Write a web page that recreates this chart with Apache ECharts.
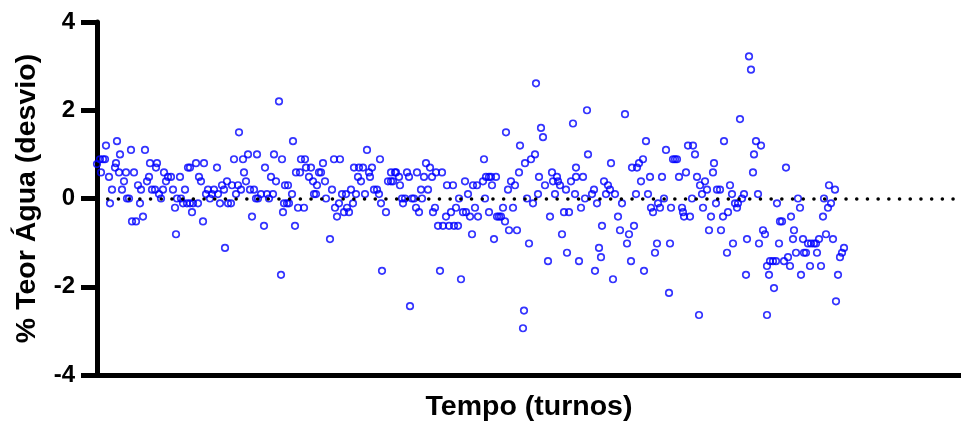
<!DOCTYPE html>
<html>
<head>
<meta charset="utf-8">
<script src="https://cdn.jsdelivr.net/npm/echarts@6/dist/echarts.min.js"></script>
<style>
  html, body { margin: 0; padding: 0; background: #fff; }
  #chart { width: 961px; height: 425px; }
</style>
</head>
<body>
<div id="chart"></div>
<script>
// turnos (x) e desvio do teor de água (y)
const turnos = [
  0, 3, 4, 6, 8, 9, 12, 13, 15, 18, 19, 20, 22, 23, 25, 27, 29, 30, 32, 34, 35, 37, 39, 41, 43, 44, 46, 48, 50, 52, 53, 55, 58, 59, 60, 62, 64, 66, 67, 69, 71, 74, 76, 78, 79, 80, 83, 84, 86, 88, 90, 91,
  93, 93, 95, 96, 99, 101, 102, 104, 106, 107, 109, 111, 113, 115, 117, 120, 121, 123, 125, 127, 128, 130, 131, 134, 135, 137, 139, 141, 142, 144, 146, 147, 149, 151, 153, 155, 157, 159, 160, 161, 164, 167, 168, 170, 172, 174, 176, 177, 179, 182, 184, 185, 186, 187, 188,
  190, 191, 192, 195, 196, 198, 199, 201, 203, 204, 207, 208, 209, 212, 214, 216, 217, 219, 220, 222, 224, 226, 228, 229, 233, 235, 237, 238, 240, 242, 243, 245, 247, 249, 250, 252, 254, 256, 257, 259, 261, 262, 264, 266, 268, 270, 272, 273, 275, 277, 280, 282, 283, 284, 285,
  289, 291, 294, 294, 296, 298, 299, 302, 303, 305, 306, 308, 310, 312, 313, 315, 317, 319, 320, 322, 324, 325, 327, 329, 331, 333, 335, 336, 338, 339, 341, 343, 345, 346, 349, 350, 352, 354, 356, 357, 359, 361, 362, 364, 366, 368, 369, 371, 373, 375, 376, 378, 380, 381,
  386, 387, 388, 389, 392, 392, 394, 395, 397, 399, 400, 402, 404, 406, 408, 409, 411, 412, 414, 416, 418, 420, 422, 423, 426, 427, 428, 430, 432, 434, 436, 438, 439, 441, 442, 444, 446, 448, 451, 453, 455, 456, 458, 460, 461, 463, 465, 467, 469, 470, 472, 474, 476, 478, 479,
  479, 482, 484, 486, 488, 490, 491, 495, 497, 498, 500, 502, 504, 505, 507, 509, 511, 513, 514, 516, 518, 521, 523, 525, 528, 530, 532, 534, 535, 537, 539, 540, 542, 544, 546, 547, 549, 551, 553, 554, 556, 558, 560, 561, 563, 565, 567, 569, 572, 573, 574, 576,
  578, 580, 582, 585, 586, 587, 589, 591, 593, 595, 596, 598, 600, 602, 603, 605, 606, 608, 610, 612, 614, 616, 617, 619, 620, 623, 624, 626, 627, 630, 631, 633, 635, 636, 638, 640, 641, 643, 645, 647, 649, 650, 652, 654, 656, 657, 659, 661, 662, 664, 666, 668, 670, 670, 672, 673,
  676, 677, 679, 680, 682, 683, 685, 687, 689, 691, 693, 694, 696, 697, 699, 701, 703, 704, 706, 707, 709, 711, 713, 714, 717, 719, 720, 722, 724, 726, 727, 729, 731, 732, 734, 736, 738, 739, 741, 743, 745, 747
]
const desvio = [
  0.78, 0.89, 0.59, 0.89, 0.89, 1.2, 0.49, -0.11, 0.2, 0.7, 0.8, 1.3, 0.59, 1.0, 0.2, 0.39, 0.59, 0, 0, 1.1, -0.52, 0.59, -0.52, 0.3, -0.11, 0.2, -0.41, 1.1, 0.39, 0.49, 0.8, 0.2, 0.2, 0.7, 0.8, 0.1, 0, 0.2, 0.59, 0.39, 0.49, 0.49, 0.2, -0.21, -0.81, 0, 0.49, 0, -0.11, 0.2, -0.11, 0.7,
  -0.11, 0.7, -0.31, -0.11, 0.8, -0.11, 0.49, 0.39, -0.52, 0.8, 0.1, 0.2, 0, 0.1, 0.2, 0.7, 0.1, -0.11, 0.3, 0.2, -1.12, 0.39, -0.11, -0.11, 0.3, 0.89, 0.1, 0.3, 1.5, 0.2, 0.89, 0.59, 0.39, 1.0, 0.2, -0.41, 0.2, 0, 1.0, 0, 0.1, -0.62, 0.7, 0.1, 0, 0.49, 0.1, 1.0, 0.39, 2.2, -1.73, 0.89, -0.31, -0.11, 0.3,
  -0.11, 0.3, -0.11, 0.1, 1.3, -0.62, 0.59, -0.21, 0.59, 0.89, -0.21, 0.89, 0.7, 0.49, 0.7, 0.39, 0.1, 0.1, 0.3, 0.59, 0.59, 0.8, 0.39, 0, -0.92, 0.2, 0.89, -0.21, -0.41, -0.11, 0.89, 0.1, -0.31, 0.1, -0.21, -0.31, 0.2, -0.11, 0.7, 0.1, 0.49, 0.7, 0.39, 0.7, 0.1, 1.1, 0.59, 0.49, 0.7, 0.2, 0.2, 0.1, 0.89, -0.11, -1.64,
  -0.31, 0.39, 0.39, 0.59, 0.39, 0.59, 0.59, 0.49, 0.3, 0, -0.11, 0, 0.59, 0.49, -2.44, 0, 0, -0.21, 0.59, -0.31, 0.2, 0, 0.49, 0.8, 0.2, 0.7, 0.49, -0.31, -0.21, 0.59, -0.62, -1.64, 0.59, -0.62, -0.41, 0.3, -0.62, -0.31, 0.3, -0.62, -0.21, -0.62, 0, -1.83, -0.31, 0.39, -0.31, 0.1, -0.41, -0.81, 0.3, -0.21, 0.3, -0.41,
  0.39, 0.89, 0, 0.49, 0.49, -0.31, 0.49, 0.3, -0.92, 0.49, -0.41, -0.41, -0.41, -0.21, -0.52, 1.5, 0.2, -0.72, 0.39, -0.21, 0.3, -0.72, 0.59, 1.2, -2.94, -2.54, 0.8, 0, -1.02, 0.89, -0.11, 1.0, 2.61, 0.1, 0.49, 1.6, 1.39, 0.3, -1.42, -0.41, 0.59, 0.39, 0.1, 0.49, 0.39, 0.3, -0.81, -0.31, 0.2, -1.23, -0.31, 0.39, 1.7, 0.1, 0.7,
  0.49, -1.42, -0.21, 0.49, 0, 2.0, 1.0, 0.1, 0.2, -1.64, -0.11, -1.12, -1.33, -0.62, 0.39, 0.1, 0.3, 0.2, 0.8, -1.83, 0.1, -0.41, -0.72, -0.11, 1.91, -1.02, -0.81, -1.42, 0.7, -0.62, 0.1, 0.7, 0.8, 0.39, 0.89, -1.64, 1.3, 0.1, 0.49, -0.21, -0.31, -1.23, -1.02, -0.11, -0.21, 0.49, 0, 1.1, -2.14, -1.02, -0.21, 0.89,
  0.89, 0.89, 0.49, -0.21, -0.31, -0.41, 0.59, 1.2, -0.41, 0, 1.2, 1.0, 0.49, -2.64, 0.3, 0.1, -0.21, 0.39, 0.2, -0.72, -0.41, 0.59, 0.8, -0.11, 0.2, 0.2, -0.72, -0.41, 1.3, -1.23, -0.31, 0.3, 0.1, -1.02, -0.11, -0.21, -0.11, 1.8, 0, 0.1, -1.73, -0.92, 3.22, 2.92, 0.59, 1.0, 1.3, 0.1, -1.02, 1.2, -0.72, -0.81, -1.53, -2.64, -1.73, -1.42,
  -1.42, -2.03, -1.42, -0.11, -1.02, -0.52, -0.52, -1.42, 0.7, -1.33, -1.53, -0.41, -0.92, -0.72, -1.23, 0, -0.21, -1.73, -0.92, -1.23, -1.23, -1.02, -1.53, -1.02, -1.02, -1.02, -1.23, -0.92, -1.53, -0.41, 0, -0.81, -0.21, 0.3, -0.11, -0.92, 0.2, -2.33, -1.73, -1.33, -1.23, -1.12
]
const yTicks = [-4, -2, 0, 2, 4]

const font = 'Arial, "Liberation Sans", Helvetica, sans-serif'
const chart = echarts.init(document.getElementById('chart'))

chart.setOption({
  animation: false,
  grid: { left: 97, right: 0, top: 22, bottom: 50, containLabel: false, outerBoundsMode: 'none' },
  xAxis: {
    type: 'value',
    min: 0,
    max: 864,
    name: 'Tempo (turnos)',
    nameLocation: 'middle',
    nameGap: 18,
    nameTextStyle: { fontFamily: font, fontWeight: 'bold', fontSize: 28.5, color: '#000' },
    axisLine: { show: true, onZero: false, lineStyle: { color: '#000', width: 5 } },
    axisTick: { show: false },
    axisLabel: { show: false },
    splitLine: { show: false }
  },
  yAxis: {
    type: 'value',
    min: yTicks[0],
    max: yTicks[yTicks.length - 1],
    interval: 2,
    name: '% Teor Água (desvio)',
    nameLocation: 'middle',
    nameGap: 55,
    nameTextStyle: { fontFamily: font, fontWeight: 'bold', fontSize: 28.5, color: '#000' },
    axisLine: { show: true, lineStyle: { color: '#000', width: 5 } },
    axisTick: { show: true, length: 16, lineStyle: { color: '#000', width: 5 } },
    axisLabel: { fontFamily: font, fontWeight: 'bold', fontSize: 24, color: '#000', margin: 22 },
    splitLine: { show: false }
  },
  series: [
    {
      type: 'scatter',
      symbol: 'circle',
      symbolSize: 6.5,
      data: turnos.map((t, i) => [t, desvio[i]]),
      itemStyle: { color: 'rgba(0,0,0,0)', borderColor: '#0000ff', borderWidth: 1.7 },
      markLine: {
        silent: true,
        symbol: 'none',
        label: { show: false },
        lineStyle: { color: '#000', width: 3.5, type: [0.1, 10.6], cap: 'round' },
        data: [{ yAxis: 0 }]
      }
    }
  ]
})
</script>
</body>
</html>
